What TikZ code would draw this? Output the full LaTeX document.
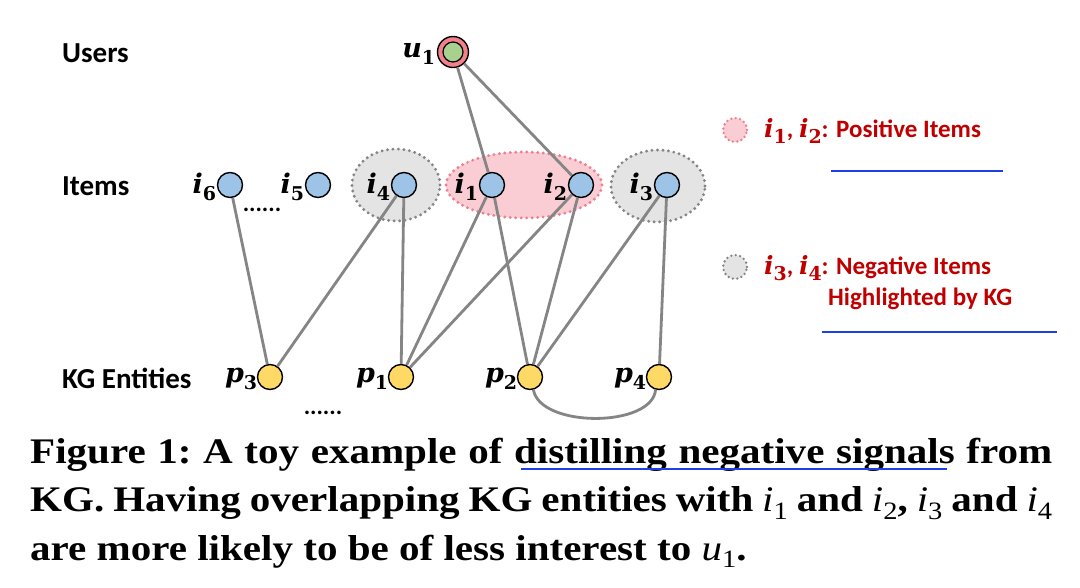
\documentclass[tikz,border=0pt]{standalone}
\usepackage{fontspec}
\usepackage{graphicx}
\setmainfont{Liberation Serif}
\newfontfamily\lblfont{Carlito}
\newfontfamily\mathlike{DejaVu Serif}
\usetikzlibrary{shapes.geometric}
\definecolor{itemblue}{HTML}{9DC3E6}
\definecolor{entyellow}{HTML}{FFD966}
\definecolor{usergreen}{HTML}{A9D18E}
\definecolor{userpink}{HTML}{F4808A}
\definecolor{posfill}{HTML}{F9CDD3}
\definecolor{posdot}{HTML}{EE7F90}
\definecolor{negfill}{HTML}{E4E4E4}
\definecolor{negdot}{HTML}{858585}
\definecolor{edgegray}{HTML}{858585}
\definecolor{legred}{HTML}{C00000}
\definecolor{annblue}{HTML}{1E3FE6}
\newcommand\vv[2]{{\mathlike\bfseries\itshape #1\raisebox{-0.26em}{\upshape\fontsize{19}{19}\selectfont #2}}}
\newcommand\cvv[2]{{\mdseries\itshape #1\raisebox{-0.22em}{\upshape\fontsize{25}{25}\selectfont #2}}}
\tikzset{
  rowlabel/.style={font=\lblfont\bfseries\fontsize{29}{29}\selectfont, anchor=base west, inner sep=0},
  nodelab/.style={font=\fontsize{27}{27}\selectfont, inner sep=0.5pt},
  itemnode/.style={circle, draw=black, line width=1.4pt, fill=itemblue, minimum size=25pt, inner sep=0},
  entnode/.style={circle, draw=black, line width=1.4pt, fill=entyellow, minimum size=25pt, inner sep=0},
  usernode/.style={circle, draw=black, line width=1.4pt, fill=userpink, minimum size=31pt, inner sep=0},
  posell/.style={ellipse, fill=posfill, draw=posdot, line width=3.2pt, line cap=round, dash pattern=on 0pt off 5.5pt, inner sep=0},
  negell/.style={ellipse, fill=negfill, draw=negdot, line width=3.2pt, line cap=round, dash pattern=on 0pt off 5.5pt, inner sep=0},
  edge/.style={draw=edgegray, line width=2.8pt},
  legtext/.style={font=\lblfont\bfseries\fontsize{25}{25}\selectfont, text=legred, anchor=base west, inner sep=0},
  dots/.style={font=\lblfont\bfseries\fontsize{24}{24}\selectfont, inner sep=0},
  ann/.style={draw=annblue, line width=2.6pt}
}
\begin{document}
\begin{tikzpicture}[x=1pt,y=-1pt]
\useasboundingbox[fill=white] (0,0) rectangle (1080,587);
% row labels
\node[rowlabel] (lu) at (62,62) {Users};
\node[rowlabel] (li) at (62,195) {Items};
\node[rowlabel] (lk) at (62,388) {KG Entities};
% highlight ellipses
\node[negell, minimum width=88pt, minimum height=72pt] (e4) at (396,185) {};
\node[posell, minimum width=156pt, minimum height=66pt] (e12) at (524,185) {};
\node[negell, minimum width=94pt, minimum height=72pt] (e3) at (658,186) {};
% user
\node[usernode] (u1) at (453,52) {};
\node[circle, draw=black, line width=1.2pt, fill=usergreen, minimum size=20pt, inner sep=0] (u1in) at (u1) {};
\node[nodelab, anchor=east] (u1l) at ([xshift=-1pt,yshift=-2pt]u1.west) {\vv{u}{1}};
% items
\node[itemnode] (i6) at (230,185) {};
\node[itemnode] (i5) at (318,185) {};
\node[itemnode] (i4) at (404,185) {};
\node[itemnode] (i1) at (492,185) {};
\node[itemnode] (i2) at (581,185) {};
\node[itemnode] (i3) at (667,185) {};
\foreach \n in {1,...,6} {
  \node[nodelab, anchor=east] (i\n l) at ([xshift=0pt,yshift=-2pt]i\n.west) {\vv{i}{\n}};
}
% entities
\node[entnode] (p3) at (270,377) {};
\node[entnode] (p1) at (401,377) {};
\node[entnode] (p2) at (530,377) {};
\node[entnode] (p4) at (659,377) {};
\foreach \n in {1,...,4} {
  \node[nodelab, anchor=east] (p\n l) at ([xshift=1pt,yshift=-2pt]p\n.west) {\vv{p}{\n}};
}
% dots
\node[dots] (d1) at (262,210) {......};
\node[dots] (d2) at (323,413) {......};
% edges
\draw[edge] (u1) -- (i1);
\draw[edge] (u1) -- (i2);
\draw[edge] (i6) -- (p3);
\draw[edge] (i4) -- (p3);
\draw[edge] (i4) -- (p1);
\draw[edge] (i1) -- (p1);
\draw[edge] (i2) -- (p1);
\draw[edge] (i1) -- (p2);
\draw[edge] (i2) -- (p2);
\draw[edge] (i3) -- (p2);
\draw[edge] (i3) -- (p4);
\draw[edge] (p2.-75) .. controls (540,428) and (652,428) .. (p4.-105);
% legend
\node[posell, minimum size=24pt, line width=2.6pt, dash pattern=on 0pt off 4.5pt] (lg1) at (735,130) {};
\node[legtext] (lt1) at (764,137) {\textcolor{legred}{\vv{i}{1}, \vv{i}{2}}: Positive Items};
\node[negell, minimum size=24pt, line width=2.6pt, dash pattern=on 0pt off 4.5pt] (lg2) at (735,267) {};
\node[legtext] (lt2) at (764,274) {\textcolor{legred}{\vv{i}{3}, \vv{i}{4}}: Negative Items};
\node[legtext] (lt3) at (828,305) {Highlighted by KG};
\draw[ann] (831,171) -- (1003,171);
\draw[ann] (822,332) -- (1057,332);
% caption
\node[anchor=base west, inner sep=0] (cap) at (30,463) {\scalebox{1.14}[1]{\parbox[t]{896.5pt}{\frenchspacing\fontsize{36}{48.5}\selectfont\bfseries
\makebox[\linewidth][s]{Figure 1: A toy example of distilling negative signals from}\par
\makebox[\linewidth][s]{KG. Having overlapping KG entities with \cvv{i}{1} and \cvv{i}{2}, \cvv{i}{3} and \cvv{i}{4}}\par
are more likely to be of less interest to \cvv{u}{1}.}}};
\draw[ann] (521,469) -- (947,469);
\end{tikzpicture}
\end{document}
